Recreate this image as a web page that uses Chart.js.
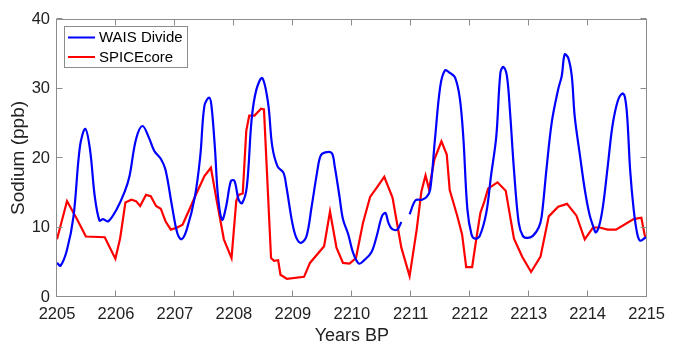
<!DOCTYPE html>
<html>
<head>
<meta charset="utf-8">
<title>Sodium (ppb)</title>
<script src="https://cdn.jsdelivr.net/npm/chart.js@4.4.1/dist/chart.umd.min.js"></script>
<style>
    body { margin: 0; background: #ffffff; }
    #wrap { width: 673px; height: 343px; }
</style>
</head>
<body>
<div id="wrap"><canvas id="sodiumChart" width="673" height="343"></canvas></div>
<script>
// WAIS Divide sodium record (null = no data)
const waisYears = [
    2205.00, 2205.06, 2205.17, 2205.28, 2205.39, 2205.48, 2205.56, 2205.64, 2205.72, 2205.78,
    2205.87, 2206.01, 2206.15, 2206.23, 2206.34, 2206.45, 2206.56, 2206.65, 2206.76, 2206.84,
    2206.95, 2207.04, 2207.11, 2207.20, 2207.34, 2207.43, 2207.50, 2207.58, 2207.62, 2207.68,
    2207.73, 2207.80, 2207.87, 2207.95, 2208.01, 2208.08, 2208.14, 2208.22, 2208.30, 2208.38,
    2208.48, 2208.58, 2208.65, 2208.74, 2208.84, 2208.89, 2208.99, 2209.06, 2209.14, 2209.23,
    2209.32, 2209.41, 2209.47, 2209.55, 2209.66, 2209.71, 2209.79, 2209.85, 2209.94, 2210.02,
    2210.12, 2210.21, 2210.33, 2210.42, 2210.51, 2210.57, 2210.62, 2210.68, 2210.77, 2210.84,
    2210.91, 2210.98, 2211.08, 2211.19, 2211.27, 2211.33, 2211.41, 2211.50, 2211.58, 2211.67,
    2211.75, 2211.83, 2211.89, 2211.96, 2212.03, 2212.09, 2212.17, 2212.28, 2212.36, 2212.45,
    2212.52, 2212.57, 2212.63, 2212.68, 2212.75, 2212.83, 2212.90, 2212.98, 2213.07, 2213.17,
    2213.22, 2213.30, 2213.39, 2213.50, 2213.56, 2213.61, 2213.67, 2213.73, 2213.78, 2213.87,
    2213.95, 2214.03, 2214.10, 2214.14, 2214.20, 2214.26, 2214.34, 2214.42, 2214.51, 2214.59,
    2214.63, 2214.67, 2214.72, 2214.78, 2214.84, 2214.89, 2214.97, 2215.00
];
const waisNa = [
    4.9, 4.5, 6.8, 11.6, 21.7, 24.2, 21.2, 14.5, 11.0, 11.2,
    10.9, 12.6, 15.2, 17.4, 22.7, 24.6, 22.9, 21.0, 19.9, 18.3,
    13.1, 9.2, 8.3, 9.7, 14.5, 20.3, 27.5, 28.7, 27.5, 21.2,
    14.5, 11.1, 13.1, 16.7, 16.7, 14.0, 13.5, 15.9, 25.5, 29.8,
    31.5, 27.9, 21.7, 18.8, 17.9, 15.9, 10.7, 8.5, 7.8, 8.7,
    13.1, 17.9, 20.3, 20.8, 20.7, 18.8, 14.5, 11.2, 9.0, 6.4,
    4.8, 5.3, 6.4, 8.7, 11.6, 12.1, 10.7, 9.8, 9.7, 10.8,
    null, 11.9, 13.9, 14.0, 14.4, 15.5, 22.7, 30.3, 32.6, 32.2,
    31.6, 28.7, 23.1, 12.6, 9.0, 8.4, 8.8, 12.1, 17.4, 23.1,
    32.3, 33.1, 31.8, 27.0, 18.3, 10.7, 8.8, 8.5, 8.8, 10.0,
    11.6, 18.3, 25.1, 29.9, 31.8, 34.9, 34.4, 31.8, 26.0, 20.3,
    15.5, 11.9, 10.0, 9.3, 10.4, 13.1, 18.8, 24.6, 28.2, 29.3,
    28.8, 26.0, 18.3, 12.6, 9.1, 8.1, 8.5, 8.6
];

// SPICEcore sodium record
const spiceYears = [
    2205.00, 2205.17, 2205.34, 2205.49, 2205.81, 2205.99, 2206.07, 2206.16, 2206.26, 2206.34,
    2206.41, 2206.51, 2206.59, 2206.68, 2206.76, 2206.84, 2206.93, 2207.04, 2207.13, 2207.23,
    2207.37, 2207.50, 2207.61, 2207.71, 2207.83, 2207.96, 2208.04, 2208.08, 2208.15, 2208.21,
    2208.26, 2208.35, 2208.46, 2208.51, 2208.63, 2208.68, 2208.75, 2208.79, 2208.90, 2209.19,
    2209.29, 2209.53, 2209.63, 2209.74, 2209.85, 2209.96, 2210.07, 2210.19, 2210.31, 2210.42,
    2210.55, 2210.69, 2210.84, 2210.98, 2211.10, 2211.18, 2211.25, 2211.31, 2211.40, 2211.52,
    2211.61, 2211.66, 2211.78, 2211.87, 2211.94, 2212.04, 2212.11, 2212.18, 2212.25, 2212.31,
    2212.47, 2212.61, 2212.75, 2212.89, 2213.04, 2213.20, 2213.34, 2213.50, 2213.65, 2213.81,
    2213.95, 2214.09, 2214.20, 2214.34, 2214.48, 2214.78, 2214.91, 2214.97, 2215.00
];
const spiceNa = [
    8.3, 13.8, 11.2, 8.7, 8.6, 5.5, 8.4, 13.6, 14.0, 13.8,
    13.1, 14.7, 14.5, 13.1, 12.7, 10.9, 9.7, 10.0, 10.4, 12.3,
    15.0, 17.4, 18.6, 13.8, 8.3, 5.6, 13.8, 14.7, 14.9, 23.9,
    26.1, 26.1, 27.1, 27.0, 5.6, 5.2, 5.3, 3.2, 2.6, 2.9,
    4.9, 7.3, 12.3, 7.1, 4.9, 4.8, 5.6, 10.7, 14.4, 15.7,
    17.3, 14.3, 7.1, 3.0, 9.7, 15.2, 17.5, 15.5, 19.8, 22.4,
    20.5, 15.4, 11.9, 9.0, 4.3, 4.3, 8.3, 12.1, 13.8, 15.6,
    16.5, 15.3, 8.4, 5.8, 3.6, 5.8, 11.6, 13.0, 13.4, 11.7,
    8.3, 10.0, 10.0, 9.7, 9.7, 11.2, 11.4, 8.8, 8.6
];

// axis ticks
const yearTicks = [2205, 2206, 2207, 2208, 2209, 2210, 2211, 2212, 2213, 2214, 2215];
const sodiumTicks = [0, 10, 20, 30, 40];

const FONT = "'Liberation Sans', Arial, Helvetica, sans-serif";
const TEXT = '#222222';
const FRAME = '#8c8c8c';

function toPoints(xs, ys) {
    return xs.map((x, i) => ({ x: x, y: ys[i] }));
}

// box around the plot, inward ticks on all four sides, and the legend
const framePlugin = {
    id: 'frame',
    afterDraw(chart) {
        const ctx = chart.ctx;
        const a = chart.chartArea;
        const xs = chart.scales.x;
        const ys = chart.scales.y;
        const tick = 6;
        ctx.save();
        ctx.strokeStyle = FRAME;
        ctx.lineWidth = 1;
        const L = Math.round(a.left) - 0.5, R = Math.round(a.right) - 0.5;
        const T = Math.round(a.top) + 0.5, B = Math.round(a.bottom) - 0.5;
        ctx.strokeRect(L, T, R - L, B - T);
        ctx.beginPath();
        yearTicks.forEach(v => {
            const px = Math.round(xs.getPixelForValue(v)) - 0.5;
            ctx.moveTo(px, B); ctx.lineTo(px, B - tick);
            ctx.moveTo(px, T); ctx.lineTo(px, T + tick);
        });
        sodiumTicks.forEach(v => {
            const py = Math.round(ys.getPixelForValue(v)) - 0.5;
            ctx.moveTo(L, py); ctx.lineTo(L + tick, py);
            ctx.moveTo(R, py); ctx.lineTo(R - tick, py);
        });
        ctx.stroke();

        // legend
        const bx = 64.5, by = 26.5, bw = 123, bh = 41;
        ctx.fillStyle = '#ffffff';
        ctx.fillRect(bx, by, bw, bh);
        ctx.strokeStyle = FRAME;
        ctx.strokeRect(bx, by, bw, bh);
        ctx.font = '15px ' + FONT;
        ctx.textBaseline = 'middle';
        ctx.textAlign = 'left';
        chart.data.datasets.forEach((ds, i) => {
            const ly = 37.5 + i * 19.5;
            ctx.strokeStyle = ds.borderColor;
            ctx.lineWidth = 2;
            ctx.beginPath();
            ctx.moveTo(68, ly);
            ctx.lineTo(95, ly);
            ctx.stroke();
            ctx.fillStyle = '#000000';
            ctx.fillText(ds.label, 99, ly + 0.5);
        });
        ctx.restore();
    }
};

const ctx = document.getElementById('sodiumChart').getContext('2d');
new Chart(ctx, {
    type: 'line',
    data: {
        datasets: [
            {
                label: 'WAIS Divide',
                data: toPoints(waisYears, waisNa),
                borderColor: '#0000ff',
                borderWidth: 2.2,
                pointRadius: 0,
                tension: 0.35,
                spanGaps: false
            },
            {
                label: 'SPICEcore',
                data: toPoints(spiceYears, spiceNa),
                borderColor: '#ff0000',
                borderWidth: 2.2,
                pointRadius: 0,
                tension: 0
            }
        ]
    },
    options: {
        responsive: false,
        animation: false,
        layout: { padding: { left: 0, top: 19, right: 19, bottom: 0 } },
        plugins: {
            legend: { display: false },
            tooltip: { enabled: false }
        },
        scales: {
            x: {
                type: 'linear',
                min: 2205,
                max: 2215,
                afterFit: s => { s.height = 46; },
                afterBuildTicks: s => { s.ticks = yearTicks.map(v => ({ value: v })); },
                grid: { display: false, drawTicks: false },
                border: { display: false },
                ticks: {
                    padding: 8,
                    maxRotation: 0,
                    color: TEXT,
                    font: { family: FONT, size: 16.5 },
                    callback: v => String(v)
                },
                title: {
                    display: true,
                    text: 'Years BP',
                    color: TEXT,
                    font: { family: FONT, size: 18 },
                    padding: { top: 0, bottom: -4 }
                }
            },
            y: {
                min: 0,
                max: 40,
                afterFit: s => { s.width = 57; },
                afterBuildTicks: s => { s.ticks = sodiumTicks.map(v => ({ value: v })); },
                grid: { display: false, drawTicks: false },
                border: { display: false },
                ticks: {
                    padding: 7,
                    color: TEXT,
                    font: { family: FONT, size: 16.5 }
                },
                title: {
                    display: true,
                    text: 'Sodium (ppb)',
                    color: TEXT,
                    font: { family: FONT, size: 19 },
                    padding: { top: 7, bottom: 0 }
                }
            }
        }
    },
    plugins: [framePlugin]
});
</script>
</body>
</html>
